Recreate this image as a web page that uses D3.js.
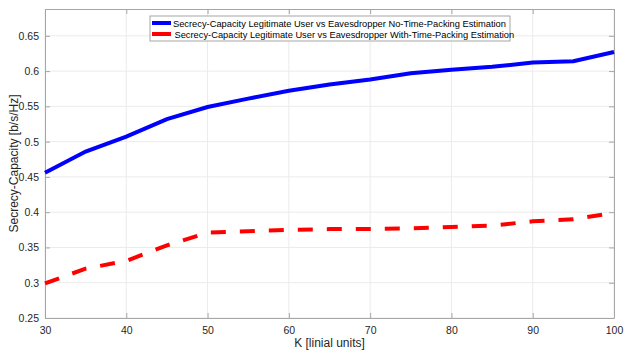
<!DOCTYPE html>
<html>
<head>
<meta charset="utf-8">
<script src="https://cdn.jsdelivr.net/npm/d3@7"></script>
<style>
    body { margin: 0; background: #fff; }
    text { font-family: "Liberation Sans", Arial, sans-serif; }
</style>
</head>
<body>
<svg id="chart" width="624" height="351"></svg>
<script>
var kValues = [30, 35, 40, 45, 50, 55, 60, 65, 70, 75, 80, 85, 90, 95, 100];
var noTimePacking = [0.456, 0.486, 0.507, 0.532, 0.549, 0.561, 0.572, 0.581, 0.588, 0.597, 0.602, 0.606, 0.612, 0.614, 0.627];
var withTimePacking = [0.299, 0.320, 0.331, 0.353, 0.371, 0.373, 0.375, 0.376, 0.376, 0.377, 0.379, 0.381, 0.387, 0.390, 0.399];
var xTicks = [30, 40, 50, 60, 70, 80, 90, 100];
var yTicks = [0.25, 0.3, 0.35, 0.4, 0.45, 0.5, 0.55, 0.6, 0.65];
var seriesNames = [
    "Secrecy-Capacity Legitimate User vs Eavesdropper No-Time-Packing Estimation",
    "Secrecy-Capacity Legitimate User vs Eavesdropper With-Time-Packing Estimation"
];

var margin = { top: 9, right: 10, bottom: 33, left: 45 },
    width = 624 - margin.left - margin.right,
    height = 351 - margin.top - margin.bottom

var x = d3.scaleLinear()
    .domain([30, 100])
    .range([0, width])

var y = d3.scaleLinear()
    .domain([0.25, 0.688])
    .range([height, 0])

var svg = d3.select("#chart")
    .append("g")
    .attr("transform", "translate(" + margin.left + "," + margin.top + ")")

// grid
svg.append("g")
    .selectAll("line")
    .data(xTicks)
    .enter().append("line")
    .attr("x1", d => x(d)).attr("x2", d => x(d))
    .attr("y1", 0).attr("y2", height)
    .attr("stroke", "#ebebeb")

svg.append("g")
    .selectAll("line")
    .data(yTicks)
    .enter().append("line")
    .attr("y1", d => y(d)).attr("y2", d => y(d))
    .attr("x1", 0).attr("x2", width)
    .attr("stroke", "#ebebeb")

// axes
function styleAxis(g) {
    g.select(".domain").attr("stroke", "#a6a6a6")
    g.selectAll(".tick line").attr("stroke", "#a6a6a6")
    g.selectAll(".tick text").attr("fill", "#262626").style("font-size", "10.5px")
}

svg.append("g")
    .attr("transform", "translate(0," + height + ")")
    .call(d3.axisBottom(x).tickValues(xTicks).tickSize(-5).tickSizeOuter(0).tickPadding(9))
    .call(styleAxis)

svg.append("g")
    .call(d3.axisTop(x).tickValues(xTicks).tickSize(-5).tickSizeOuter(0).tickFormat(""))
    .call(styleAxis)

svg.append("g")
    .call(d3.axisLeft(y).tickValues(yTicks).tickSize(-5).tickSizeOuter(0).tickPadding(6).tickFormat(d3.format("")))
    .call(styleAxis)

svg.append("g")
    .attr("transform", "translate(" + width + ",0)")
    .call(d3.axisRight(y).tickValues(yTicks).tickSize(-5).tickSizeOuter(0).tickFormat(""))
    .call(styleAxis)

// lines
var line = d3.line()
    .x(function (d, i) { return x(kValues[i]); })
    .y(function (d) { return y(d); })

svg.append("path")
    .datum(noTimePacking)
    .attr("d", line)
    .attr("fill", "none")
    .attr("stroke", "#0000ff")
    .attr("stroke-width", 4)

svg.append("path")
    .datum(withTimePacking)
    .attr("d", line)
    .attr("fill", "none")
    .attr("stroke", "#ff0000")
    .attr("stroke-width", 4)
    .attr("stroke-dasharray", "15,14")

// axis labels
svg.append("text")
    .attr("x", width / 2)
    .attr("y", height + 29)
    .attr("text-anchor", "middle")
    .attr("fill", "#262626")
    .style("font-size", "12px")
    .text("K [linial units]")

svg.append("text")
    .attr("transform", "translate(-27," + (height / 2) + ") rotate(-90)")
    .attr("text-anchor", "middle")
    .attr("fill", "#262626")
    .style("font-size", "12px")
    .text("Secrecy-Capacity [b/s/Hz]")

// legend
var legend = svg.append("g")
    .attr("transform", "translate(" + (150 - margin.left) + "," + (16 - margin.top) + ")")

legend.append("rect")
    .attr("width", 360)
    .attr("height", 25)
    .attr("fill", "#fff")
    .attr("stroke", "#a6a6a6")

var colors = ["#0000ff", "#ff0000"]
seriesNames.forEach(function (name, i) {
    legend.append("line")
        .attr("x1", 2).attr("x2", 21)
        .attr("y1", 7 + i * 11).attr("y2", 7 + i * 11)
        .attr("stroke", colors[i])
        .attr("stroke-width", 4)
    legend.append("text")
        .attr("x", 23 + i * 1.5)
        .attr("y", 10.5 + i * 11)
        .attr("fill", "#000")
        .style("font-size", "9.3px")
        .text(name)
})
</script>
</body>
</html>
